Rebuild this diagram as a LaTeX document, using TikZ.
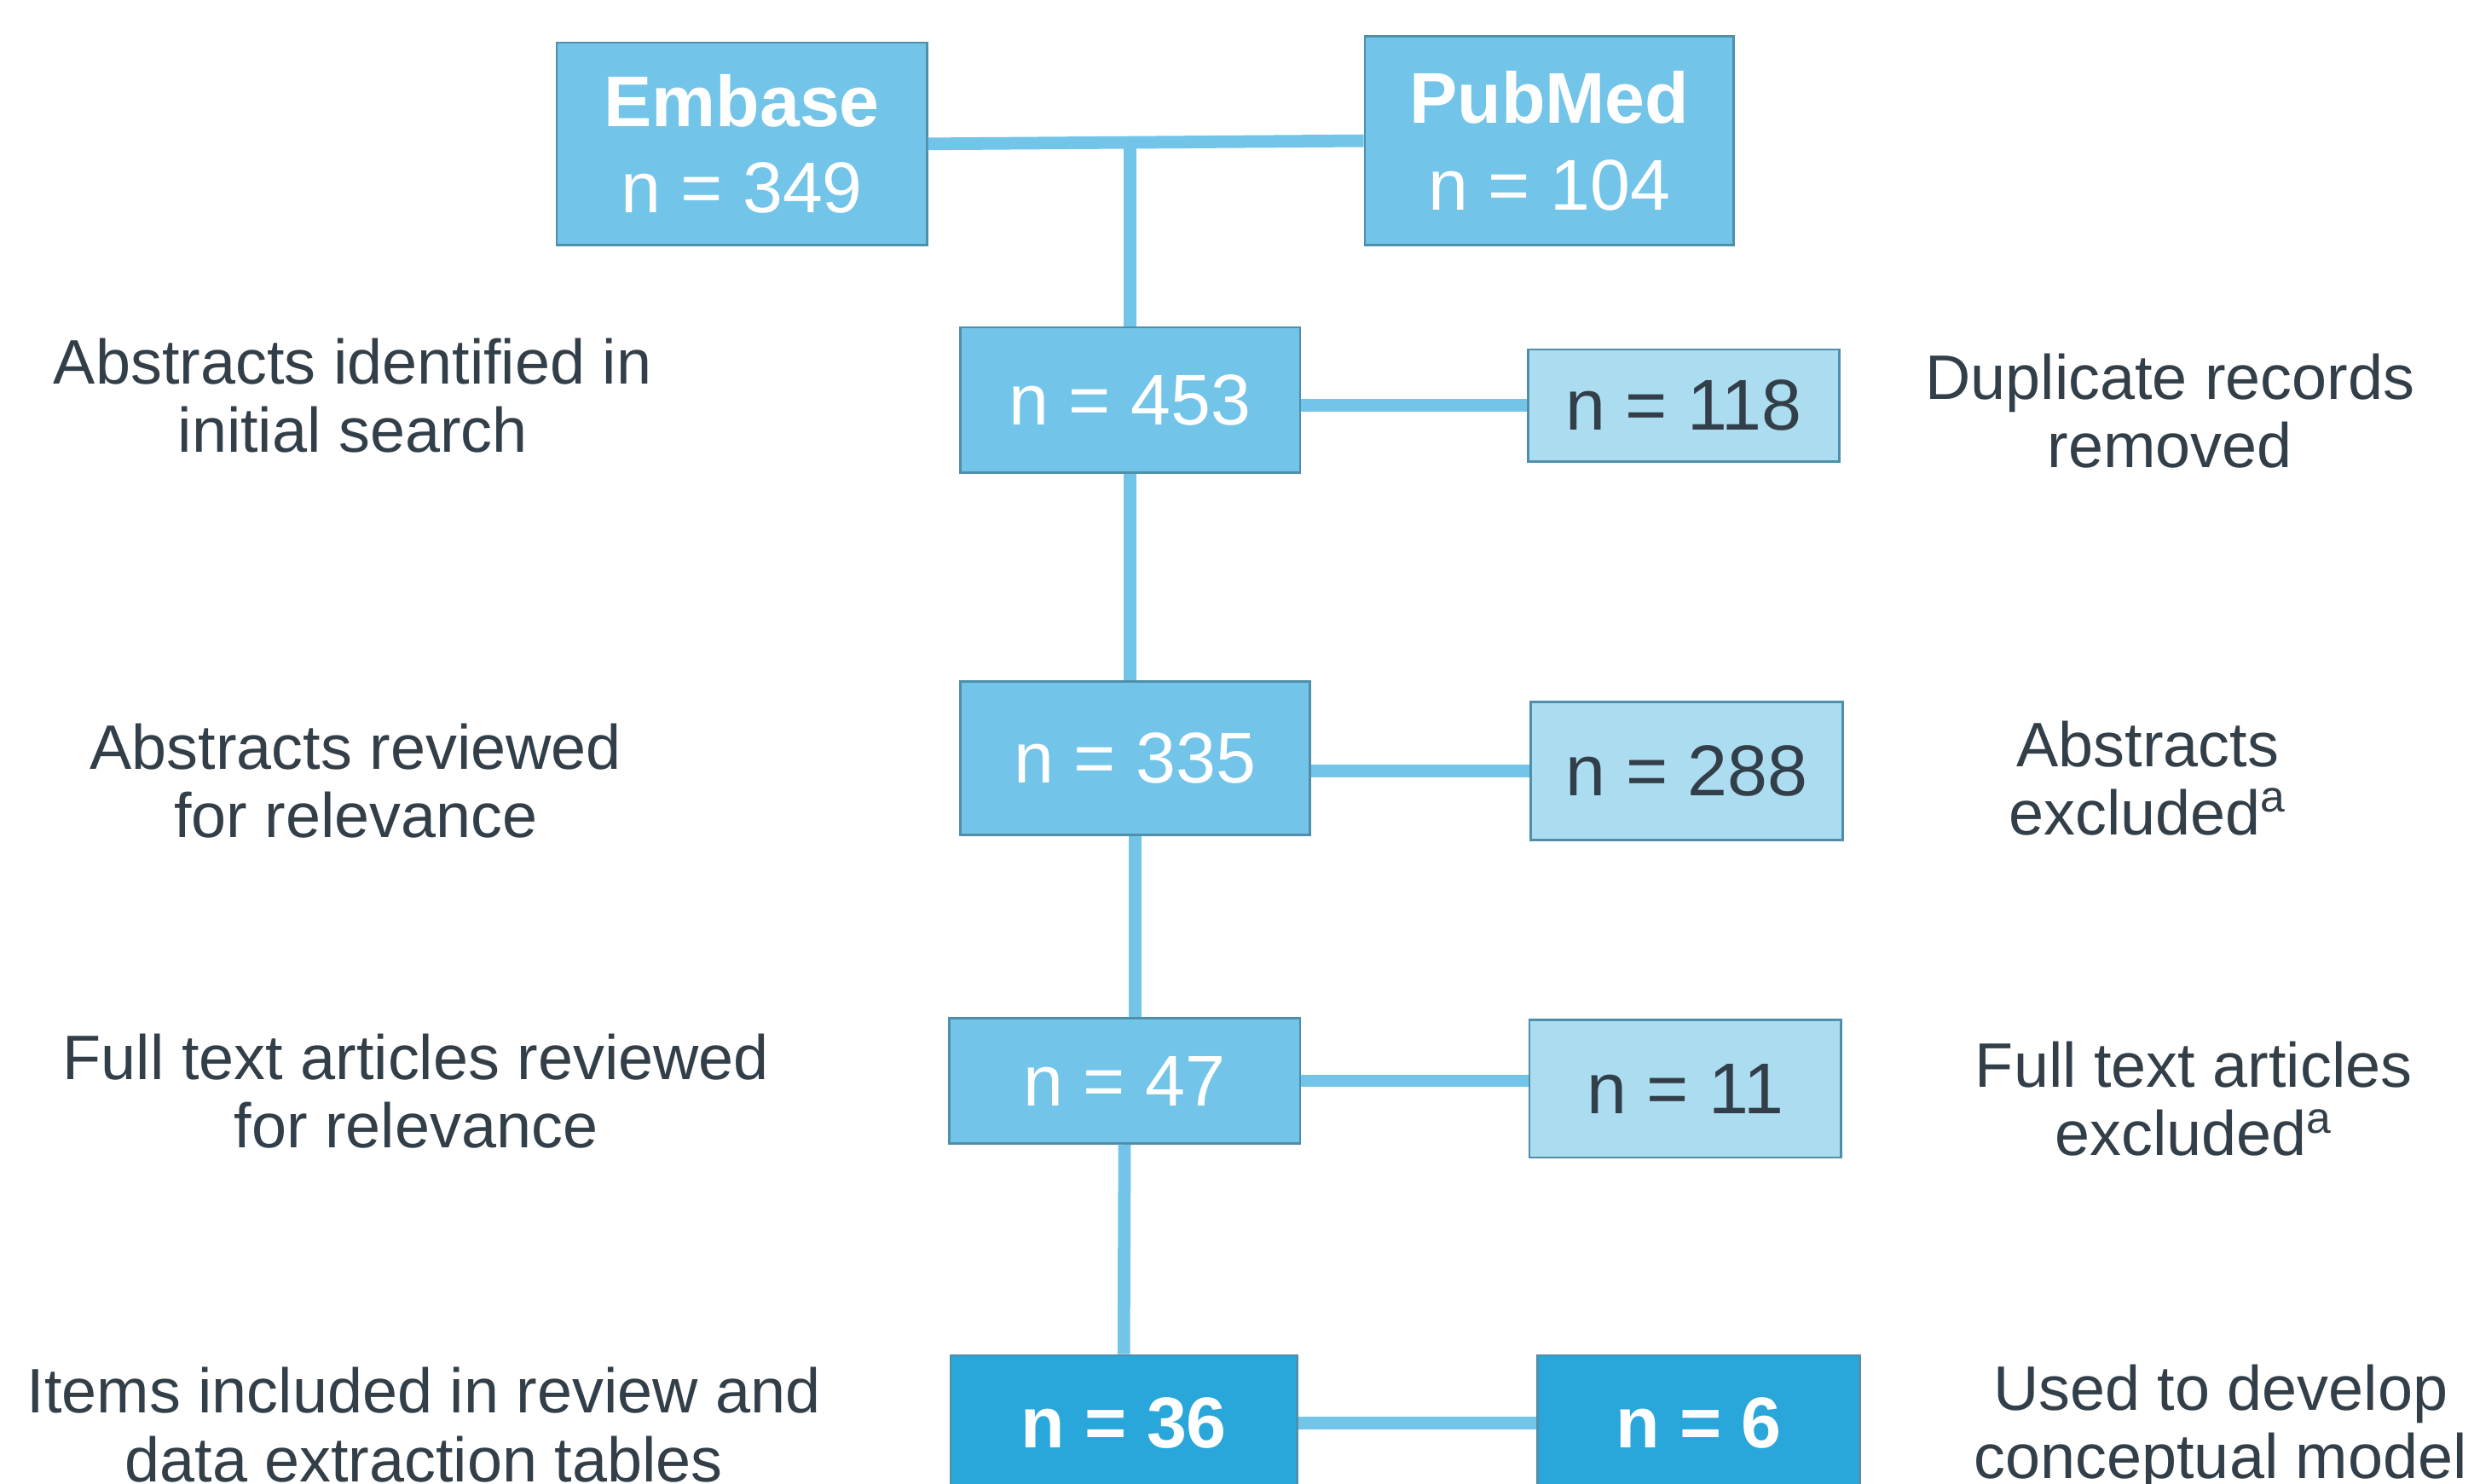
\documentclass[tikz,border=0pt]{standalone}
\usepackage{fontspec}
\setmainfont{Liberation Sans}
\usepackage{tikz}

\definecolor{boxmid}{HTML}{72C4E8}
\definecolor{boxlight}{HTML}{ABDCF0}
\definecolor{boxdark}{HTML}{29A6DA}
\definecolor{boxedge}{HTML}{4F8FAA}
\definecolor{sidetext}{HTML}{333F48}
\newcommand{\pxs}{0.018552cm}

\begin{document}
\begin{tikzpicture}[x=\pxs, y=-\pxs,
  every box/.style={draw=boxedge, line width=0.8pt, inner sep=0pt, align=center,
    font=\fontsize{24}{29}\selectfont},
  box mid/.style={fill=boxmid, text=white},
  box light/.style={fill=boxlight, text=sidetext},
  box dark/.style={fill=boxdark, text=white, font=\fontsize{24}{29}\selectfont\bfseries},
  side note/.style={align=center, text=sidetext, font=\fontsize{21}{22.8}\selectfont},
  link/.style={draw=boxmid, line width=4.2pt}]
\useasboundingbox (0,0) rectangle (1568,938);

% sources
\node [every box, box mid, minimum width=234*\pxs, minimum height=128*\pxs]
  (embase) at (469,91) {\textbf{Embase}\\n = 349};
\node [every box, box mid, minimum width=233*\pxs, minimum height=132*\pxs]
  (pubmed) at (979.5,89) {\textbf{PubMed}\\n = 104};

% main column
\node [every box, box mid, minimum width=215*\pxs, minimum height=92*\pxs]
  (main-1) at (714.5,253) {n = 453};
\node [every box, box mid, minimum width=221*\pxs, minimum height=97*\pxs]
  (main-2) at (717.5,479.5) {n = 335};
\node [every box, box mid, minimum width=222*\pxs, minimum height=79*\pxs]
  (main-3) at (711,683.5) {n = 47};
\node [every box, box dark, minimum width=219*\pxs, minimum height=86*\pxs]
  (main-4) at (710.5,900) {n = 36};

% side column
\node [every box, box light, minimum width=197*\pxs, minimum height=71*\pxs]
  (out-1) at (1064.5,256.5) {n = 118};
\node [every box, box light, minimum width=197*\pxs, minimum height=87*\pxs]
  (out-2) at (1066.5,487.5) {n = 288};
\node [every box, box light, minimum width=197*\pxs, minimum height=87*\pxs]
  (out-3) at (1065.5,688.5) {n = 11};
\node [every box, box dark, minimum width=204*\pxs, minimum height=86*\pxs]
  (out-4) at (1074,900) {n = 6};

\foreach \i/\x/\y/\t in {1/223/250/{Abstracts identified in\\initial search},
    2/225/494/{Abstracts reviewed\\for relevance},
    3/263/690/{Full text articles reviewed\\for relevance},
    4/268/901/{Items included in review and\\data extraction tables}}
  \node [side note] (left-\i) at (\x,\y) {\t};

\foreach \i/\x/\y/\t in {1/1372/260/{Duplicate records\\removed},
    2/1358/492/{Abstracts\\excluded\textsuperscript{a}},
    3/1387/695/{Full text articles\\excluded\textsuperscript{a}},
    4/1404/903/{Used to develop\\conceptual model}}
  \node [side note] (right-\i) at (\x,\y) {\t};

\draw [link] (embase.east) -- (pubmed.west);
\draw [link] (main-1.north |- embase.east) -- (main-1.north);
\draw [link] (main-1.south) -- (main-1.south |- main-2.north);
\draw [link] (main-2.south) -- (main-2.south |- main-3.north);
\draw [link] (main-3.south) -- (main-4.north);

\draw [link] (out-1.west -| main-1.east) -- (out-1.west);
\draw [link] (out-2.west -| main-2.east) -- (out-2.west);
\draw [link] (main-3.east) -- (main-3.east -| out-3.west);
\draw [link] (main-4.east) -- (out-4.west);
\end{tikzpicture}
\end{document}
